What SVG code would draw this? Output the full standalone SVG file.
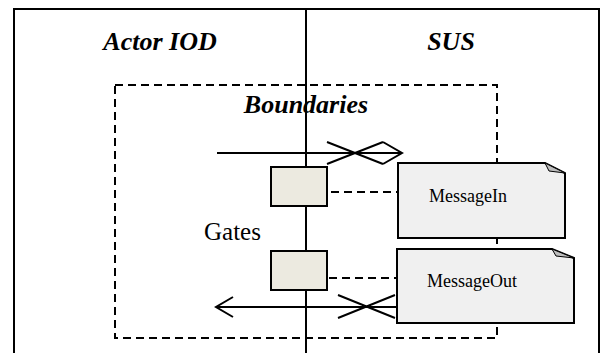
<svg xmlns="http://www.w3.org/2000/svg" width="601" height="353" viewBox="0 0 601 353">
<style>
.ln{stroke:#000;stroke-width:2;fill:none}
.dash{stroke:#000;stroke-width:2;fill:none;stroke-dasharray:8 5}
.hdr{font-family:"Liberation Serif",serif;font-weight:bold;font-style:italic;font-size:26px;fill:#000}
.lbl{font-family:"Liberation Serif",serif;font-size:18px;fill:#000}
.gate{fill:#ECEAE0;stroke:#000;stroke-width:2}
.note{fill:#F0F0F0;stroke:#000;stroke-width:2;stroke-linejoin:miter}
.fold{fill:#BDBDBD;stroke:#000;stroke-width:1}
</style>
<rect width="601" height="353" fill="#fff"/>
<g id="frame">
<path class="ln" d="M14,353 V9 H599 V353"/>
<line class="ln" x1="306" y1="9" x2="306" y2="353"/>
<text class="hdr" x="160" y="50" text-anchor="middle">Actor IOD</text>
<text class="hdr" x="451" y="50" text-anchor="middle">SUS</text>
</g>
<g id="boundaries">
<rect class="dash" x="115" y="85" width="382" height="253"/>
<text class="hdr" x="306" y="113" text-anchor="middle">Boundaries</text>
</g>
<g id="gates-label">
<text class="lbl" x="204" y="240" style="font-size:25px">Gates</text>
</g>
<g id="connectors">
<line class="dash" x1="331" y1="192" x2="398" y2="192"/>
<line class="dash" x1="329" y1="278" x2="397" y2="278"/>
<line class="ln" x1="217" y1="153" x2="402" y2="153"/>
<path class="ln" d="M327,142 L383,164 M327,164 L383,142 M383,142 L402,153 L383,164"/>
<line class="ln" x1="216" y1="307" x2="397" y2="307"/>
<path class="ln" d="M233,297 L216,307 L233,317 M338,295 L395,318 M338,318 L395,295"/>
</g>
<g id="gate1"><rect class="gate" x="271" y="167" width="56" height="39"/></g>
<g id="gate2"><rect class="gate" x="271" y="251" width="56" height="39"/></g>
<g id="messageIn">
<path class="note" d="M398,163 H545 L565,173 V238 H398 Z"/>
<path class="fold" d="M545,163 L565,173 L549,171 Z"/>
<text class="lbl" x="429" y="202">MessageIn</text>
</g>
<g id="messageOut">
<path class="note" d="M397,249 H552 L574,258 V323 H397 Z"/>
<path class="fold" d="M552,249 L574,258 L556,256 Z"/>
<text class="lbl" x="427" y="287">MessageOut</text>
</g>
</svg>
